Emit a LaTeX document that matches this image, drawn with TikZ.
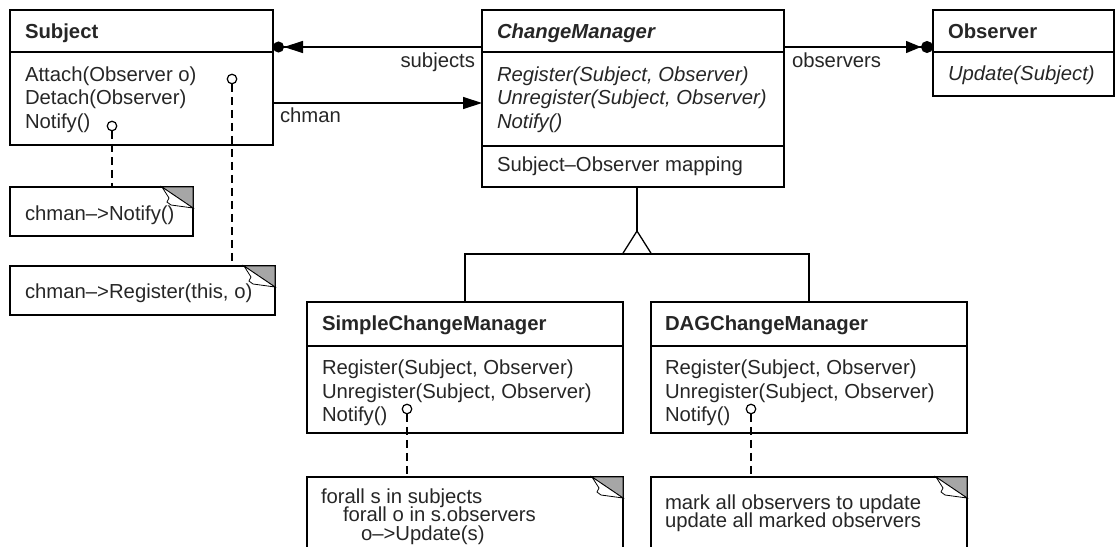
\documentclass[tikz,border=0pt]{standalone}
\usepackage{fontspec}
\setmainfont{Liberation Sans}
\usetikzlibrary{arrows.meta}
\begin{document}
\begin{tikzpicture}[x=1pt,y=-1pt,line width=1.3pt,
  box/.style={draw,rectangle,anchor=north west,outer sep=0pt,inner sep=0pt},
  txt/.style={anchor=base west,inner sep=0pt,outer sep=0pt,text=black!85,font=\fontsize{20.3}{24}\selectfont},
  lbl/.style={txt},
  hd/.style={txt,font=\fontsize{20.3}{24}\selectfont\bfseries},
  hdi/.style={txt,font=\fontsize{20.3}{24}\selectfont\bfseries\itshape},
  it/.style={txt,font=\fontsize{20.3}{24}\selectfont\itshape},
  pin/.style={circle,draw,minimum size=9.5pt,inner sep=0pt,outer sep=0pt,line width=1.2pt,fill=white},
  dashline/.style={dash pattern=on 8pt off 5pt,line width=1.3pt},
  ear/.style={fill=black!35,draw=black,line width=0.8pt}]
\useasboundingbox (0,0) rectangle (1116,546);
\clip (0,0) rectangle (1116,546);

\newcommand{\dogear}[1]{%
  \filldraw[ear] ([xshift=-31pt]#1.north east) -- (#1.north east) -- ([yshift=-21pt]#1.north east) -- cycle;
  \filldraw[fill=white,draw=black,line width=0.8pt] ([xshift=-31pt]#1.north east)
     .. controls ([xshift=-27pt,yshift=-6pt]#1.north east) .. ([xshift=-24pt,yshift=-11pt]#1.north east)
     -- ([xshift=-26pt,yshift=-15pt]#1.north east)
     -- ([xshift=-22pt,yshift=-18pt]#1.north east)
     -- ([yshift=-21pt]#1.north east) -- cycle;}

% class boxes
\node[box,minimum width=263pt,minimum height=135pt] (subj) at (10,10) {};
\draw ([yshift=-42pt]subj.north west) -- ([yshift=-42pt]subj.north east);
\node[box,minimum width=302pt,minimum height=177pt] (cm) at (482,10) {};
\draw ([yshift=-42pt]cm.north west) -- ([yshift=-42pt]cm.north east);
\draw ([yshift=-136pt]cm.north west) -- ([yshift=-136pt]cm.north east);
\node[box,minimum width=181pt,minimum height=86pt] (obs) at (933,10) {};
\draw ([yshift=-42pt]obs.north west) -- ([yshift=-42pt]obs.north east);
\node[box,minimum width=316pt,minimum height=131pt] (scm) at (307,302) {};
\draw ([yshift=-44pt]scm.north west) -- ([yshift=-44pt]scm.north east);
\node[box,minimum width=316pt,minimum height=131pt] (dag) at (651,302) {};
\draw ([yshift=-44pt]dag.north west) -- ([yshift=-44pt]dag.north east);

% notes
\node[box,minimum width=183pt,minimum height=49pt] (n1) at (10,187) {};
\node[box,minimum width=265pt,minimum height=49pt] (n2) at (10,266) {};
\node[box,minimum width=316pt,minimum height=100pt] (sn) at (307,477) {};
\node[box,minimum width=316pt,minimum height=100pt] (dn) at (651,477) {};
\dogear{n1}\dogear{n2}\dogear{sn}\dogear{dn}

% texts
\node[hd] (t1) at (25,38) {Subject};
\node[txt] (t2) at (25,81) {Attach(Observer o)};
\node[txt] (t3) at (25,104.5) {Detach(Observer)};
\node[txt] (t4) at (25,128) {Notify()};
\node[hdi] (t5) at (497,38) {ChangeManager};
\node[it] (t6) at (497,81) {Register(Subject, Observer)};
\node[it] (t7) at (497,104.5) {Unregister(Subject, Observer)};
\node[it] (t8) at (497,128) {Notify()};
\node[txt] (t9) at (497,171) {Subject–Observer mapping};
\node[hd] (t10) at (948,38) {Observer};
\node[it] (t11) at (948,80) {Update(Subject)};
\node[txt] (t12) at (25,220) {chman–>Notify()};
\node[txt] (t13) at (25,298) {chman–>Register(this, o)};
\node[hd] (t14) at (322,330) {SimpleChangeManager};
\node[txt] (t15) at (322,374.5) {Register(Subject, Observer)};
\node[txt] (t16) at (322,398) {Unregister(Subject, Observer)};
\node[txt] (t17) at (322,421.5) {Notify()};
\node[hd] (t18) at (665,330) {DAGChangeManager};
\node[txt] (t19) at (665,374.5) {Register(Subject, Observer)};
\node[txt] (t20) at (665,398) {Unregister(Subject, Observer)};
\node[txt] (t21) at (665,421.5) {Notify()};
\node[txt] (t22) at (321,503) {forall s in subjects};
\node[txt] (t23) at (343,521.5) {forall o in s.observers};
\node[txt] (t24) at (361,540) {o–>Update(s)};
\node[txt] (t25) at (665,509) {mark all observers to update};
\node[txt] (t26) at (665,527.5) {update all marked observers};

% association labels
\node[lbl,anchor=base east] (l1) at (475,67) {subjects};
\node[lbl] (l2) at (280,122) {chman};
\node[lbl] (l3) at (792,67) {observers};

% associations
\draw[{Circle[length=11pt] Triangle[length=19pt,width=12pt]}-] ([yshift=-37pt]subj.north east) -- ([yshift=-37pt]cm.north west);
\draw[-{Triangle[length=19pt,width=12pt]}] ([yshift=-93pt]subj.north east) -- ([yshift=-93pt]cm.north west);
\draw[-{Triangle[length=15pt,width=12pt] Circle[length=12pt]}] ([yshift=-37pt]cm.north east) -- ([yshift=-37pt]obs.north west);

% generalization
\coordinate (gapex) at (637,231);
\coordinate (gbar) at (637,254);
\draw (cm.south -| gapex) -- (gapex);
\draw[fill=white] (gapex) -- ([xshift=-14.5pt]gbar) -- ([xshift=14.5pt]gbar) -- cycle;
\draw (scm.north) |- (gbar) -| (dag.north);

% note pins
\node[pin] (p1) at (112,126) {};
\node[pin] (p2) at (232,79) {};
\node[pin] (p3) at (407,409) {};
\node[pin] (p4) at (751,409) {};
\draw[dashline] (p1.south) -- (p1.south |- n1.north);
\draw[dashline] (p2.south) -- (p2.south |- n2.north);
\draw[dashline] (p3.south) -- (p3.south |- sn.north);
\draw[dashline] (p4.south) -- (p4.south |- dn.north);
\end{tikzpicture}
\end{document}
